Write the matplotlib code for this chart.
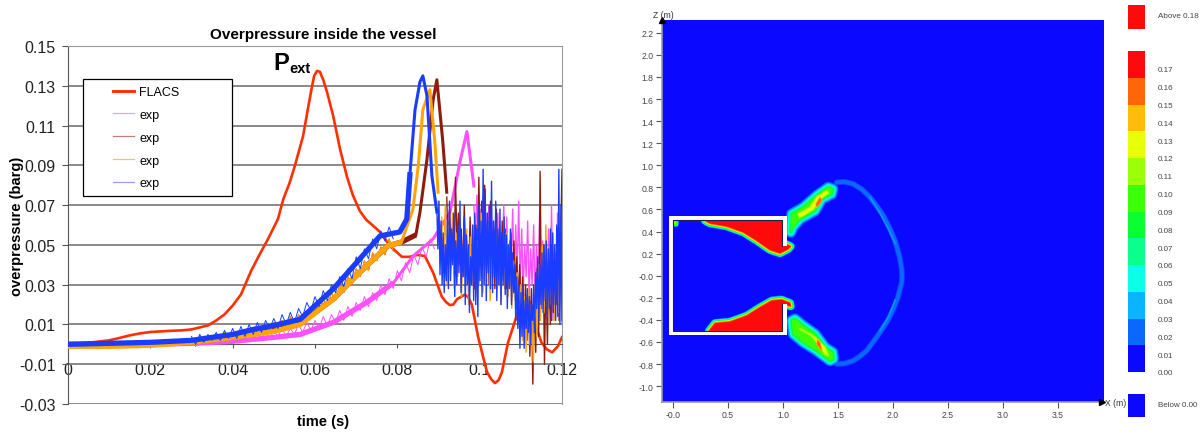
import matplotlib
matplotlib.use("Agg")
import matplotlib.pyplot as plt
import numpy as np
from matplotlib.lines import Line2D

plt.rcParams['font.family'] = ['Liberation Sans', 'DejaVu Sans']

# left chart: overpressure curves
t_flacs = [0, .005, .01, .0125, .015, .0175, .02, .0225, .025, .0275, .03, .032, .034, .036, .038, .04, .042, .0445, .0465, .0486,
           .051, .0523, .0538, .0551, .0571, .0582, .0593, .0598, .0605, .0612, .062, .0629, .0644, .0661, .0678, .0692, .0709,
           .0725, .0742, .0758, .0782, .0811, .083, .0848, .0867, .0887, .0908, .0918, .0928, .0936, .0945, .0964, .0973, .0981,
           .0996, .1008, .1018, .1028, .1037, .1046, .1054, .1069, .108, .109, .1105, .112, .113, .114, .115, .1163, .1176, .119, .12]
p_flacs = [0, .0008, .002, .0032, .0045, .0055, .0062, .0065, .0068, .007, .0075, .0085, .0095, .012, .015, .0195, .025, .037, .045, .053,
           .063, .073, .081, .0897, .1047, .1175, .13, .135, .1375, .137, .133, .127, .115, .098, .084, .075, .067,
           .0625, .0595, .0565, .0495, .044, .044, .045, .0444, .036, .024, .0213, .0197, .02, .0227, .025, .0235, .020,
           .004, -.006, -.014, -.0175, -.0195, -.018, -.014, .001, .008, .0144, .024, .022, .0144, .007, .001, -.0025, -.004, -.001, .0036]

t_magenta = [0, .01, .02, .03, .04, .05, .0564, .0644, .0725, .0791, .0838, .0887, .0928, .0952, .0969, .0986]
p_magenta = [-.0005, -.0005, 0, .0005, .0015, .0035, .005, .011, .021, .031, .0443, .053, .0665, .0916, .107, .0796]
t_maroon = [0, .01, .02, .03, .04, .05, .0564, .0644, .0709, .0777, .081, .0845, .0855, .0872, .0887, .0896, .091, .092]
p_maroon = [0, 0, .0005, .001, .004, .007, .0105, .0227, .0363, .0495, .0514, .055, .0665, .093, .123, .133, .103, .0765]
t_amber = [0, .01, .02, .03, .04, .05, .0564, .0644, .0709, .0777, .081, .0838, .0851, .0862, .0879, .0891, .0899]
p_amber = [-.001, -.001, -.0005, .001, .0035, .0065, .010, .0227, .0363, .0495, .0514, .068, .09, .118, .128, .102, .0765]
t_blue = [0, .01, .02, .03, .04, .045, .05, .0564, .0644, .0709, .0758, .0806, .0823, .0831, .0843, .0855, .0862, .0872, .0884, .0896]
p_blue = [0, .0005, .001, .002, .005, .0075, .0095, .0126, .0278, .043, .0545, .0565, .063, .0866, .118, .132, .135, .125, .0846, .0665]

# jitter of the slow rise, one reading per millisecond
magenta_rise = [.002, -.001, .002, .0, .003, .0, .003, .0, .004, .001,
                .004, .001, .005, .002, .005, .002, .006, .003, .006, .003,
                .007, .004, .008, .004, .008, .005, .010, .006, .011, .007,
                .012, .008, .014, .009, .015, .011, .017, .012, .019, .014,
                .021, .017, .024, .019, .026, .022, .030, .025, .033, .028,
                .037, .032, .041, .036, .045, .040, .049, .044, .053, .048]
amber_rise = [.003, -.001, .004, .0, .004, .001, .005, .001, .006, .002,
              .006, .002, .007, .003, .008, .004, .009, .005, .010, .006,
              .011, .007, .012, .008, .014, .009, .015, .011, .017, .013,
              .020, .016, .023, .019, .026, .022, .030, .026, .034, .030,
              .038, .034, .042, .037, .046, .042, .049, .045, .053, .047]
blue_rise = [.004, .0, .005, .001, .005, .002, .006, .002, .007, .003,
             .008, .003, .009, .004, .010, .005, .011, .006, .012, .008,
             .013, .008, .015, .010, .016, .011, .018, .014, .021, .017,
             .024, .019, .027, .022, .030, .026, .034, .029, .038, .033,
             .044, .038, .048, .043, .053, .048, .057, .052, .059, .053]

# fast oscillating end of each record, one reading per sample
magenta_noise = [.07, .052, .075, .05, .068, .045, .074, .055, .066, .04, .07, .048, .062, .035, .058, .044, .066, .03, .056, .04,
                 .07, .036, .064, .03, .052, .042, .068, .028, .06, .036, .072, .03, .058, .026, .05, .034, .062, .024, .048, .03,
                 .06, .022, .05, .02, .066, .018, .052, .026, .044, .016, .058, .02, .07, .012, .05, .024, .066, .015, .04, .01]
maroon_noise = [.074, .05, .068, .042, .06, .035, .084, .05, .066, .04,
                .058, .034, .07, .045, .052, .03, .064, .036, .048, .028,
                .06, .038, .084, .045, .072, .036, .08, .04, .062, .03,
                .072, .044, .058, .028, .068, .036, .054, .03, .062, .032,
                .058, .028, .05, .034, .056, .024, .052, .03, .044, .022,
                .04, .016, .034, .01, .03, .002, .022, -.006, .028, -.02,
                .02, -.004, .038, .004, .087, .018, .05, -.01, .036, .0,
                .044, .01, .05, .016, .046, .02, .058, .012, .05, .088]
amber_noise = [.072, .046, .064, .036, .07, .03, .06, .036, .066, .028,
               .056, .034, .06, .024, .05, .034, .058, .02, .054, .03,
               .06, .024, .052, .03, .066, .026, .05, .036, .06, .022,
               .056, .034, .06, .028, .052, .02, .05, .028, .056, .024,
               .046, .018, .042, .022, .036, .012, .03, .002, .024, -.004,
               .028, .0, .02, -.009, .03, .004, .04, .012, .05, .016,
               .06, .014, .045, .02, .056, .012, .05, .016, .058, .014]
blue_noise = [.068, .048, .072, .035, .062, .03, .056, .026, .05, .032,
              .062, .028, .072, .032, .058, .04, .066, .024, .052, .03,
              .06, .036, .072, .026, .05, .034, .064, .02, .055, .03,
              .05, .016, .044, .03, .06, .022, .066, .02, .058, .014,
              .07, .032, .062, .024, .088, .03, .078, .022, .066, .036,
              .07, .028, .082, .026, .062, .034, .072, .022, .058, .03,
              .068, .02, .056, .03, .064, .025, .055, .018, .05, .028,
              .058, .02, .046, .026, .04, .012, .034, .008, .03, -.002,
              .026, .004, .03, -.002, .022, .008, .028, .006, .024, .0,
              .02, .012, .03, .006, .036, .018, .044, .012, .04, .02,
              .046, .016, .05, .022, .052, .014, .048, .018, .058, .012,
              .056, .02, .05, .012, .06, .014, .088, .01, .07, .012]

series_names = ['FLACS', 'exp', 'exp', 'exp', 'exp']
y_ticks = [-.03, -.01, .01, .03, .05, .07, .09, .11, .13, .15]
x_ticks = [0, .02, .04, .06, .08, .1, .12]
x_tick_labels = ['0', '0.02', '0.04', '0.06', '0.08', '0.1', '0.12']

# right chart: pressure field outlines in metres
top_red_x = [.291, .336, .488, .639, .761, .882, .973, 1.048, 1.07, 1.033, .995, .995]
top_red_y = [.498, .474, .447, .393, .317, .233, .203, .242, .266, .284, .266, .50]
bot_red_x = [.327, .382, .518, .67, .791, .897, .988, 1.064, 1.07, .995, .995]
bot_red_y = [-.50, -.43, -.417, -.362, -.286, -.226, -.217, -.247, -.277, -.256, -.50]
spot_x = [0, .03, .03, 0]
spot_y = [.5, .5, .47, .47]

up_green_x = [1.07, 1.079, 1.185, 1.306, 1.412, 1.452, 1.442, 1.352, 1.291, 1.155, 1.088]
up_green_y = [.393, .559, .619, .725, .80, .785, .74, .695, .589, .514, .438]
up_yellow_x = [1.139, 1.245, 1.306, 1.397, 1.412, 1.336, 1.276, 1.155]
up_yellow_y = [.559, .619, .71, .77, .749, .695, .604, .529]
up_orange_x = [1.30, 1.336, 1.352, 1.306]
up_orange_y = [.65, .71, .68, .619]
lo_green_x = [1.079, 1.094, 1.185, 1.306, 1.427, 1.458, 1.452, 1.382, 1.291, 1.185, 1.109]
lo_green_y = [-.407, -.528, -.604, -.679, -.77, -.755, -.694, -.649, -.528, -.453, -.392]
lo_yellow_x = [1.155, 1.245, 1.336, 1.382, 1.412, 1.382, 1.291, 1.185]
lo_yellow_y = [-.483, -.528, -.634, -.71, -.725, -.649, -.558, -.498]
lo_orange_x = [1.306, 1.352, 1.336, 1.315]
lo_orange_y = [-.619, -.68, -.605, -.58]

shell_x = [1.488, 1.56, 1.639, 1.72, 1.791, 1.86, 1.912, 1.97, 2.018, 2.06, 2.079, 2.082, 2.079, 2.064, 2.04, 2.003, 1.95, 1.882, 1.82, 1.761, 1.70, 1.639, 1.56, 1.488]
shell_y = [.846, .85, .831, .78, .71, .62, .544, .43, .317, .17, .061, 0, -.06, -.12, -.21, -.302, -.41, -.513, -.60, -.679, -.73, -.77, -.795, -.80]
streak_up_x = [1.791, 1.88, 1.97, 2.02]
streak_up_y = [.71, .57, .40, .29]
streak_lo_x = [2.02, 1.96, 1.88]
streak_lo_y = [-.22, -.37, -.50]

band_colors = ['#0A08FF', '#0A68FF', '#0AB4FF', '#0AFFE6', '#0AFF8C', '#0AFF32',
               '#3CFF0A', '#9BFF0A', '#E8FF0A', '#FFBC0A', '#FF660A', '#FF0A0A']
level_labels = ['0.00', '0.01', '0.02', '0.03', '0.04', '0.05', '0.06', '0.07', '0.08',
                '0.09', '0.10', '0.11', '0.12', '0.13', '0.14', '0.15', '0.16', '0.17']
level_max = 0.18

W, H = 1204, 435
fig = plt.figure(figsize=(W / 100, H / 100), dpi=100)


def px_axes(x0, y0, x1, y1):
    return fig.add_axes([x0 / W, 1 - y1 / H, (x1 - x0) / W, (y1 - y0) / H])


# ---- left chart ----
ax = px_axes(68, 47, 562, 405)
ax.set_xlim(0, .12)
ax.set_ylim(-.03, .15)
ax.set_yticks(y_ticks)
ax.set_yticklabels(['%.2f' % v for v in y_ticks])
ax.set_xticks(x_ticks)
ax.set_xticklabels(x_tick_labels)
ax.grid(True, axis='y', color='#808080', lw=1.3)
ax.set_axisbelow(True)
ax.spines['bottom'].set_position(('data', 0))
ax.spines['bottom'].set_color('#555555')
ax.spines['left'].set_color('#555555')
ax.spines['top'].set_color('#999999')
ax.spines['right'].set_color('#999999')
ax.tick_params(axis='y', labelsize=11.5, length=4.5, color='#555555', labelcolor='#222222', pad=4.5)
ax.tick_params(axis='x', labelsize=11.5, length=3, color='#555555', labelcolor='#222222', pad=9.5)

col_flacs, col_magenta, col_maroon, col_amber, col_blue = '#FF3000', '#FF50FF', '#8E1C0C', '#FFA50A', '#1A3CFF'
ax.plot(t_flacs, p_flacs, color=col_flacs, lw=1.9, zorder=3)
traces = [(t_magenta, p_magenta, magenta_rise, magenta_noise, col_magenta, .0986),
          (t_maroon, p_maroon, amber_rise, maroon_noise, col_maroon, .092),
          (t_amber, p_amber, amber_rise, amber_noise, col_amber, .0899),
          (t_blue, p_blue, blue_rise, blue_noise, col_blue, .0896)]
for tr, pr, rise, noise, col, t_end in traces:
    ax.plot(tr[:-6], pr[:-6], color=col, lw=3.8, zorder=4, solid_capstyle='butt')
    ax.plot(tr[-7:], pr[-7:], color=col, lw=2.2, zorder=4)
    ax.plot(.03 + np.arange(len(rise)) / 1000, rise, color=col, lw=.7, zorder=4)
    ax.plot(np.linspace(t_end, .12, len(noise)), noise, color=col, lw=1.0, zorder=4)

ax.set_title('Overpressure inside the vessel', fontsize=11, fontweight='bold', x=.516, y=1.0, pad=5.5)
ax.set_xlabel('time (s)', fontsize=10.5, fontweight='bold')
ax.xaxis.set_label_coords(.516, -.047)
ax.xaxis.label.set_va('center')
ax.set_ylabel('overpressure (barg)', fontsize=10.5, fontweight='bold')
ax.yaxis.set_label_coords(-.103, .5)
ax.yaxis.label.set_va('center')
ax.text(.0498, .1384, 'P', fontsize=17, fontweight='bold', va='baseline', ha='left', zorder=6)
ax.text(.0537, .1371, 'ext', fontsize=10.5, fontweight='bold', va='baseline', ha='left', zorder=6)

handles = [Line2D([], [], color=col_flacs, lw=2.1),
           Line2D([], [], color='#FF90FF', lw=.9),
           Line2D([], [], color='#C08078', lw=.9),
           Line2D([], [], color='#FFC060', lw=.9),
           Line2D([], [], color='#90A0FF', lw=.9)]
leg = ax.legend(handles, series_names, loc='upper left', mode='expand', fontsize=9,
                bbox_to_anchor=((83 - 68) / 494, (405 - 196) / 358, 149 / 494, 116 / 358),
                borderaxespad=0, borderpad=.55, labelspacing=.87, handlelength=3.5, handletextpad=.45,
                fancybox=False, framealpha=1, edgecolor='black', facecolor='white')
leg.get_frame().set_linewidth(.9)
leg.set_zorder(5)
for h in leg.get_lines():
    xd = h.get_xdata()
    h.set_xdata(np.linspace(xd[0] + 16.5, xd[-1], len(xd)))

# ---- right chart ----
ax2 = px_axes(662, 21, 1104, 403)
ax2.set_xlim(-.1, 3.918)
ax2.set_ylim(-1.144, 2.316)
ax2.set_facecolor(band_colors[0])
ax2.set_xticks([0, .5, 1, 1.5, 2, 2.5, 3, 3.5])
ax2.set_xticklabels(['-0.0', '0.5', '1.0', '1.5', '2.0', '2.5', '3.0', '3.5'])
r_ticks = [-1, -.8, -.6, -.4, -.2, 0, .2, .4, .6, .8, 1, 1.2, 1.4, 1.6, 1.8, 2, 2.2]
ax2.set_yticks(r_ticks)
ax2.set_yticklabels(['-0.0' if v == 0 else '%.1f' % v for v in r_ticks])
ax2.tick_params(labelsize=6.2, length=4, width=.8, color='#555555', labelcolor='#444444', pad=2)
for side in ['top', 'right']:
    ax2.spines[side].set_visible(False)
for side in ['left', 'bottom']:
    ax2.spines[side].set_color('#9A9AAA')
    ax2.spines[side].set_linewidth(1.2)


def contour_patch(xs, ys, colors, widths, fill):
    # outermost level first, each stroke sits on the one before
    for c, w in zip(colors, widths):
        ax2.fill(xs, ys, fc=c, ec=c, lw=w, joinstyle='round', zorder=2)
    ax2.fill(xs, ys, fc=fill, ec='none', zorder=2)


rim = band_colors[1:11]
rim_w = [6.0, 5.4, 4.8, 4.2, 3.6, 3.0, 2.5, 2.0, 1.5, 1.0]
contour_patch(top_red_x, top_red_y, rim, rim_w, band_colors[11])
contour_patch(bot_red_x, bot_red_y, rim, rim_w, band_colors[11])
contour_patch(spot_x, spot_y, rim[:6], [3.5, 3, 2.5, 2, 1.5, 1], band_colors[7])

plume_rim = band_colors[1:6]
plume_w = [8.0, 6.4, 4.8, 3.2, 1.6]
contour_patch(up_green_x, up_green_y, plume_rim, plume_w, band_colors[6])
contour_patch(lo_green_x, lo_green_y, plume_rim, plume_w, band_colors[6])
for xs, ys in [(up_yellow_x, up_yellow_y), (lo_yellow_x, lo_yellow_y)]:
    contour_patch(xs, ys, band_colors[7:8], [1.5], band_colors[8])
for xs, ys in [(up_orange_x, up_orange_y), (lo_orange_x, lo_orange_y)]:
    contour_patch(xs, ys, band_colors[9:10], [1.0], band_colors[10])

ax2.plot(shell_x, shell_y, color='#0A3CFF', lw=4.2, zorder=1.5, solid_capstyle='round')
ax2.plot(shell_x, shell_y, color=band_colors[1], lw=2.8, zorder=1.6, solid_capstyle='round')
ax2.plot(streak_up_x, streak_up_y, color='#0A98FF', lw=1.1, zorder=1.7)
ax2.plot(streak_lo_x, streak_lo_y, color='#0A98FF', lw=1.1, zorder=1.7)

# vessel walls: white strip with a dark inner edge
wall_x = [.995, .995, 0, 0, .995, .995, 1.036, 1.036, -.04, -.04, 1.036, 1.036]
wall_y = [.266, .50, .50, -.50, -.50, -.256, -.256, -.534, -.534, .54, .54, .266]
ax2.fill(wall_x, wall_y, fc='white', ec='none', zorder=3)
ax2.plot(wall_x[:6], wall_y[:6], color='#20204A', lw=.8, zorder=3.1)

trans = ax2.transAxes
ax2.plot([0], [1.0], marker='^', ms=4.5, color='black', transform=trans, clip_on=False, zorder=6)
ax2.plot([.9955], [0], marker='>', ms=4.5, color='black', transform=trans, clip_on=False, zorder=6)
fig.text(653 / W, 1 - 15 / H, 'Z (m)', fontsize=6.2, color='#333333', va='center')
fig.text(1105 / W, 1 - 404 / H, 'X (m)', fontsize=6.2, color='#333333', va='center')

# colour scale
cax = px_axes(1127.5, 52, 1145, 373)
edges = np.linspace(0, level_max, len(band_colors) + 1)
for i, c in enumerate(band_colors):
    cax.bar(0, edges[i + 1] - edges[i], bottom=edges[i], width=1, color=c, align='edge', lw=0)
cax.set_xlim(0, 1)
cax.set_ylim(0, level_max)
cax.set_xticks([])
cax.set_yticks(np.arange(len(level_labels)) / 100)
cax.set_yticklabels(level_labels)
cax.yaxis.tick_right()
cax.tick_params(length=0, pad=9.5, labelsize=5.8, labelcolor='#444444')
for s in cax.spines.values():
    s.set_visible(False)

for (y0, y1, c, label) in [(6, 30, band_colors[-1], 'Above 0.18'), (395, 418, band_colors[0], 'Below 0.00')]:
    bx = px_axes(1127.5, y0, 1145, y1)
    bx.set_facecolor(c)
    bx.set_xticks([])
    bx.set_yticks([])
    for s in bx.spines.values():
        s.set_visible(False)
    bx.text(1.73, .55, label, transform=bx.transAxes, fontsize=5.8, color='#444444', va='center')

fig.savefig('out.png', dpi=100)
